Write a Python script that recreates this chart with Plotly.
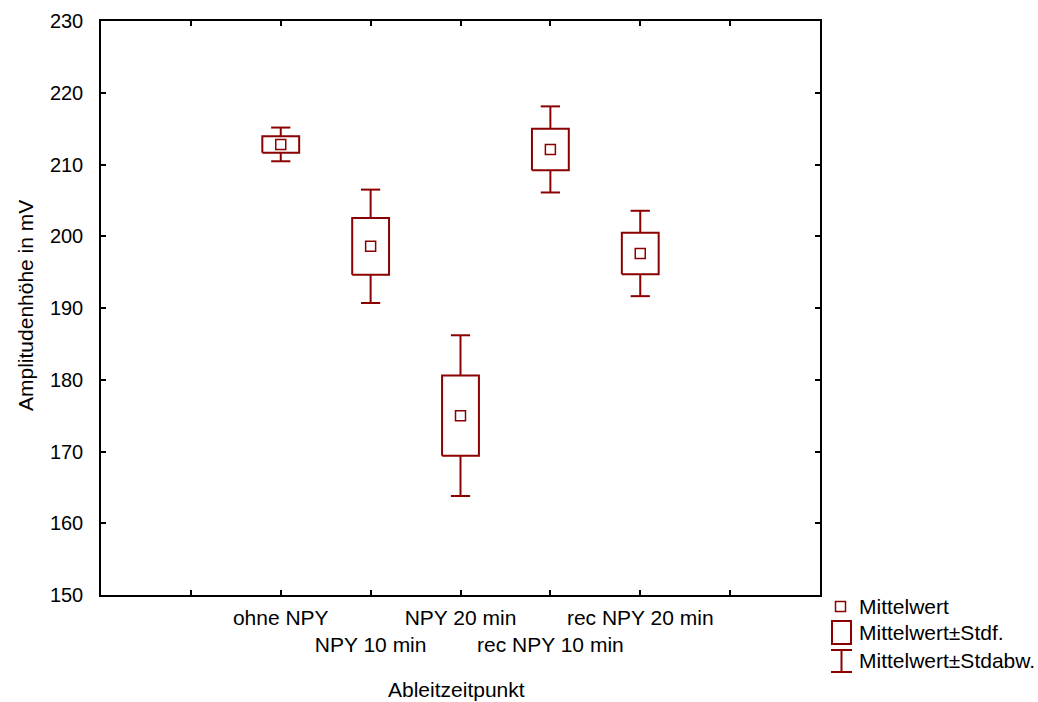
import plotly.graph_objects as go

# ---- data ----
categories = ["ohne NPY", "NPY 10 min", "NPY 20 min", "rec NPY 10 min", "rec NPY 20 min"]
positions = [2, 3, 4, 5, 6]
label_rows = [0, 1, 0, 1, 0]
means = [212.8, 198.6, 175.0, 212.1, 197.6]
se = [1.15, 3.95, 5.6, 2.9, 2.9]
sd = [2.35, 7.9, 11.2, 6.0, 5.95]
y_ticks = [150, 160, 170, 180, 190, 200, 210, 220, 230]

COLOR = "#8b0000"
FONT = "Liberation Sans, Arial, sans-serif"
BOX_HW = 0.205
CAP_HW = 0.107

fig = go.Figure()

# boxes (mean +/- SE)
bx, by = [], []
for c, m, s in zip(positions, means, se):
    lo, hi = m - s, m + s
    bx += [c - BOX_HW, c + BOX_HW, c + BOX_HW, c - BOX_HW, c - BOX_HW, None]
    by += [lo, lo, hi, hi, lo, None]
fig.add_trace(go.Scatter(x=bx, y=by, mode="lines", line=dict(color=COLOR, width=2),
                         showlegend=False, hoverinfo="skip"))

# whiskers (mean +/- SD) with caps
wx, wy = [], []
for c, m, s, d in zip(positions, means, se, sd):
    wx += [c, c, None, c - CAP_HW, c + CAP_HW, None]
    wy += [m + s, m + d, None, m + d, m + d, None]
    wx += [c, c, None, c - CAP_HW, c + CAP_HW, None]
    wy += [m - s, m - d, None, m - d, m - d, None]
fig.add_trace(go.Scatter(x=wx, y=wy, mode="lines", line=dict(color=COLOR, width=2),
                         showlegend=False, hoverinfo="skip"))

# means
fig.add_trace(go.Scatter(x=positions, y=means, mode="markers",
                         marker=dict(symbol="square-open", size=10, color=COLOR,
                                     line=dict(color=COLOR, width=1.5)),
                         showlegend=False))

ticktext = [""] + [("<br>" if r else "") + c for c, r in zip(categories, label_rows)] + [""]

# plot area in pixels
L, R, T, B = 101, 820, 21, 595
W, H = 1038, 702


def px(x):
    return (x - L) / (R - L)


def py(y):
    return (B - y) / (B - T)


fig.update_layout(
    width=W, height=H,
    margin=dict(l=L, r=W - R, t=T, b=H - B),
    plot_bgcolor="white", paper_bgcolor="white",
    font=dict(family=FONT, size=21, color="black"),
    xaxis=dict(range=[0, 8], tickvals=[1, 2, 3, 4, 5, 6, 7], ticktext=ticktext,
               tickangle=0, automargin=False,
               ticks="inside", ticklen=5, tickwidth=1.5, tickcolor="black",
               showline=True, linecolor="black", linewidth=1.5, mirror="ticks",
               showgrid=False, zeroline=False, tickfont=dict(size=21),
               ticklabelstandoff=3),
    yaxis=dict(range=[150, 230], tickvals=y_ticks, automargin=False,
               ticks="inside", ticklen=5, tickwidth=1.5, tickcolor="black",
               showline=True, linecolor="black", linewidth=1.5, mirror="ticks",
               showgrid=False, zeroline=False, tickfont=dict(size=20),
               ticklabelstandoff=12),
    showlegend=False,
)

# axis titles
fig.add_annotation(text="Ableitzeitpunkt", x=px(456), xref="paper", y=py(689), yref="paper",
                   showarrow=False, font=dict(size=21), xanchor="center", yanchor="middle")
fig.add_annotation(text="Amplitudenhöhe in mV", x=px(25), xref="paper", y=py(306), yref="paper",
                   showarrow=False, textangle=-90, font=dict(size=21),
                   xanchor="center", yanchor="middle")

# manual legend
leg_text = ["Mittelwert", "Mittelwert±Stdf.", "Mittelwert±Stdabw."]
leg_y = [606, 632, 660]
for t, yy in zip(leg_text, leg_y):
    fig.add_annotation(text=t, x=px(857), xref="paper", y=py(yy), yref="paper",
                       showarrow=False, xanchor="left", yanchor="middle", font=dict(size=21))

line_l = dict(color=COLOR, width=1.5)
line_b = dict(color=COLOR, width=2)
fig.add_shape(type="rect", xref="paper", yref="paper", x0=px(835.5), x1=px(845.5),
              y0=py(611.5), y1=py(601.5), line=line_l)
fig.add_shape(type="rect", xref="paper", yref="paper", x0=px(832), x1=px(851),
              y0=py(644), y1=py(621), line=line_b)
fig.add_shape(type="line", xref="paper", yref="paper", x0=px(841.5), x1=px(841.5),
              y0=py(650), y1=py(672), line=line_b)
fig.add_shape(type="line", xref="paper", yref="paper", x0=px(831), x1=px(852),
              y0=py(650), y1=py(650), line=line_b)
fig.add_shape(type="line", xref="paper", yref="paper", x0=px(831), x1=px(852),
              y0=py(672), y1=py(672), line=line_b)

fig.write_html("out.html")
